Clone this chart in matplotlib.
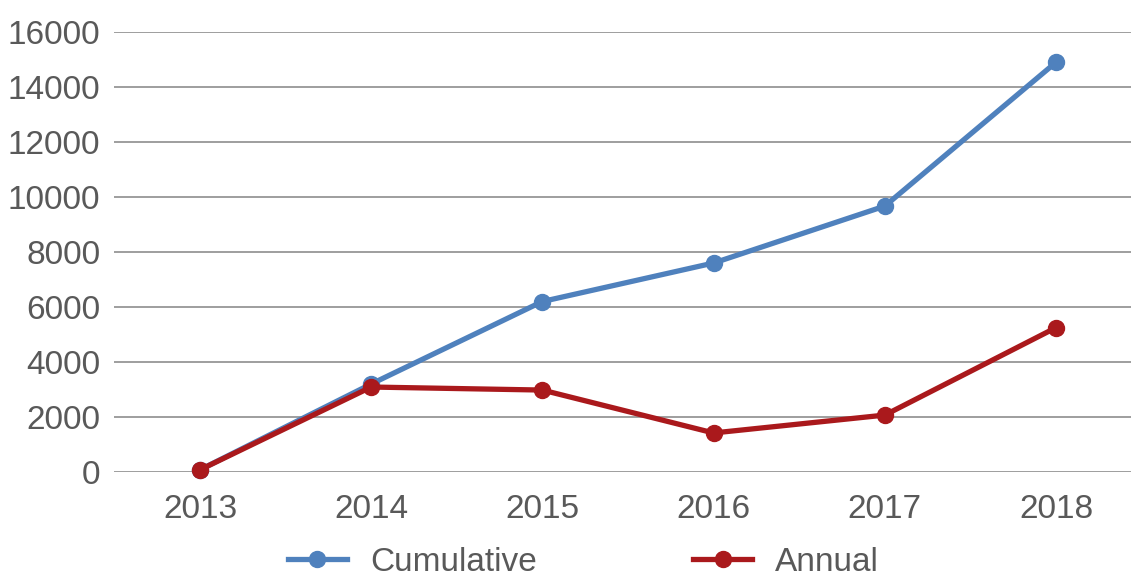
import numpy as np
import matplotlib.pyplot as plt

plt.rcParams['font.family'] = ['Liberation Sans', 'DejaVu Sans']

years = ['2013', '2014', '2015', '2016', '2017', '2018']
cumulative = [80, 3200, 6200, 7600, 9670, 14900]
annual = [80, 3090, 2980, 1420, 2070, 5250]

text_col = '#595959'
grid_col = '#8e8e8e'

fig = plt.figure(figsize=(11.31, 5.81), dpi=100)
ax = fig.add_axes([0.1011, 0.1876, 0.9083, 0.7573])

x = np.arange(len(years))
ax.plot(x, cumulative, '-o', color='#4f81bd', lw=3.8, ms=11.5, label='Cumulative', clip_on=False, zorder=3)
ax.plot(x, annual, '-o', color='#aa191c', lw=3.8, ms=11.5, label='Annual', clip_on=False, zorder=4)

ax.set_xlim(-0.5, len(years) - 0.5)
ax.set_ylim(0, 16000)
ax.set_yticks(np.arange(0, 16001, 2000))
ax.set_xticks(x)
ax.set_xticklabels(years)
ax.yaxis.grid(True, color=grid_col, lw=1.2)
ax.set_axisbelow(True)
for s in ax.spines.values():
    s.set_visible(False)
ax.tick_params(length=0, labelsize=24, colors=text_col)
ax.tick_params(axis='y', pad=10)
ax.tick_params(axis='x', pad=16)

fig.legend(loc='center', bbox_to_anchor=(0.516, 0.032), ncol=2, frameon=False,
           fontsize=24, labelcolor=text_col, handlelength=1.77, handletextpad=0.69,
           columnspacing=4.7, borderpad=0)

plt.savefig('out.png', dpi=100)
